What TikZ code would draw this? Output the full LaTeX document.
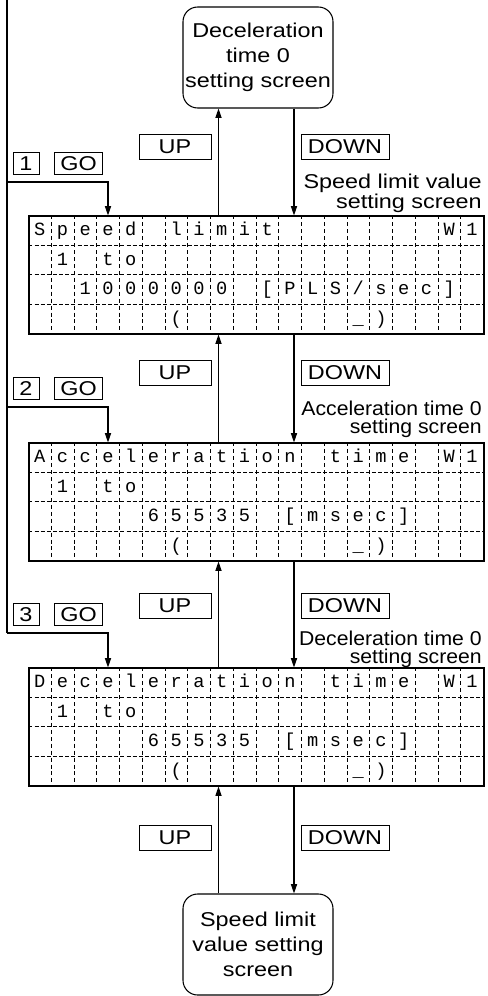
\documentclass[tikz,border=0pt]{standalone}
\usepackage{fontspec}
\setmainfont{Liberation Sans}[FakeStretch=1.17]
\newfontfamily\narrowsans{Liberation Sans}[FakeStretch=1.06]
\newfontfamily\lcdfont{Liberation Mono}
\usetikzlibrary{arrows.meta,calc}
\tikzset{
  sans/.style={font=\fontsize{15pt}{18.75pt}\selectfont},
  conn/.style={line width=0.8pt},
  arr/.style={conn,-{Triangle[length=7pt,width=4.6pt]}},
  keybox/.style={draw,line width=0.6pt,inner sep=0pt,sans,minimum height=18.75pt},
  upbox/.style={keybox,minimum width=54pt},
  downbox/.style={keybox,minimum width=66pt},
  numbox/.style={keybox,minimum width=19.5pt,minimum height=16.5pt},
  gobox/.style={keybox,minimum width=35.5pt,minimum height=16.5pt},
  screenbox/.style={draw,line width=0.8pt,rounded corners=11pt,minimum width=112.5pt,minimum height=75.75pt,inner sep=0pt,align=center,sans},
  lcdbox/.style={draw,line width=0.8pt,minimum width=341.25pt,minimum height=88.5pt,inner sep=0pt},
  vgrid/.style={line width=0.5pt,dash pattern=on 3pt off 2.2pt},
  hgrid/.style={line width=0.5pt,dash pattern=on 3pt off 1.6pt},
  lcdch/.style={anchor=base,inner sep=0pt,font=\lcdfont\fontsize{14pt}{16pt}\selectfont},
  lab/.style={anchor=north east,inner sep=0pt,align=right,font=\fontsize{15pt}{13.1pt}\selectfont},
  nlab/.style={lab,font=\narrowsans\fontsize{15pt}{14pt}\selectfont}
}
\newcommand\lcdgrid[1]{%
  \foreach \k in {1,...,19}{\draw[vgrid] ($(#1.north west)+(\k*22.75,0)$) -- ($(#1.south west)+(\k*22.75,0)$);}
  \foreach \j in {1,2,3}{\draw[hgrid] ($(#1.north west)+(0,\j*29.5)$) -- ($(#1.north east)+(0,\j*29.5)$);}
}
\newcommand\lcdrow[3]{%
  \foreach \ch [count=\k] in {#3}{\node[lcdch] (#1-r#2-\k) at ($(#1.north west)+(\k*22.75-11.375,#2*29.5-9.2)$) {\ch};}
}
\begin{document}
\begin{tikzpicture}[x=0.75pt,y=-0.75pt]
\useasboundingbox (0,0) rectangle (488,996);

% screens
\node[screenbox] (dec0) at (258,57.5) {Deceleration\\time 0\\setting screen};
\node[screenbox] (spd0) at (258,944.5) {Speed limit\\value setting\\screen};

\node[lcdbox] (lcd1) at (256.5,275) {};
\node[lcdbox] (lcd2) at (256.5,502) {};
\node[lcdbox] (lcd3) at (256.5,727) {};

\lcdgrid{lcd1}
\lcdgrid{lcd2}
\lcdgrid{lcd3}

\lcdrow{lcd1}{1}{S,p,e,e,d,{},l,i,m,i,t,{},{},{},{},{},{},{},W,1}
\lcdrow{lcd1}{2}{{},1,{},t,o}
\lcdrow{lcd1}{3}{{},{},1,0,0,0,0,0,0,{},{[},P,L,S,/,s,e,c,{]}}
\lcdrow{lcd1}{4}{{},{},{},{},{},{},{(},{},{},{},{},{},{},{},{\_},{)}}

\lcdrow{lcd2}{1}{A,c,c,e,l,e,r,a,t,i,o,n,{},t,i,m,e,{},W,1}
\lcdrow{lcd2}{2}{{},1,{},t,o}
\lcdrow{lcd2}{3}{{},{},{},{},{},6,5,5,3,5,{},{[},m,s,e,c,{]}}
\lcdrow{lcd2}{4}{{},{},{},{},{},{},{(},{},{},{},{},{},{},{},{\_},{)}}

\lcdrow{lcd3}{1}{D,e,c,e,l,e,r,a,t,i,o,n,{},t,i,m,e,{},W,1}
\lcdrow{lcd3}{2}{{},1,{},t,o}
\lcdrow{lcd3}{3}{{},{},{},{},{},6,5,5,3,5,{},{[},m,s,e,c,{]}}
\lcdrow{lcd3}{4}{{},{},{},{},{},{},{(},{},{},{},{},{},{},{},{\_},{)}}

% key labels
\node[upbox] (up0) at (175,146.5) {UP};
\node[downbox] (dn0) at (345,146.5) {DOWN};
\node[upbox] (up1) at (175,372.5) {UP};
\node[downbox] (dn1) at (345,372.5) {DOWN};
\node[upbox] (up2) at (175,605.5) {UP};
\node[downbox] (dn2) at (345,605.5) {DOWN};
\node[upbox] (up3) at (175,838) {UP};
\node[downbox] (dn3) at (345,838) {DOWN};

\node[numbox] (n1) at (26,163.5) {1};
\node[gobox] (g1) at (78.5,163.5) {GO};
\node[numbox] (n2) at (26,388.5) {2};
\node[gobox] (g2) at (78.5,388.5) {GO};
\node[numbox] (n3) at (26,614.5) {3};
\node[gobox] (g3) at (78.5,614.5) {GO};

% screen name labels
\node[lab] (l1) at (482,173.5) {Speed limit value\\setting screen};
\node[nlab] (l2) at (482,400.5) {Acceleration time 0\\setting screen};
\node[nlab] (l3) at (482,630.5) {Deceleration time 0\\setting screen};

% coordinates
\coordinate (ux) at (218.5,0);
\coordinate (dx) at (294,0);
\coordinate (gx) at (108,0);
\coordinate (ltop) at (7,0);
\coordinate (b1) at (7,182);
\coordinate (b2) at (7,407);
\coordinate (b3) at (7,633);

% connectors
\draw[arr] (lcd1.north -| ux) -- (dec0.south -| ux);
\draw[arr] (dec0.south -| dx) -- (lcd1.north -| dx);
\draw[arr] (lcd2.north -| ux) -- (lcd1.south -| ux);
\draw[arr] (lcd1.south -| dx) -- (lcd2.north -| dx);
\draw[arr] (lcd3.north -| ux) -- (lcd2.south -| ux);
\draw[arr] (lcd2.south -| dx) -- (lcd3.north -| dx);
\draw[arr] (spd0.north -| ux) -- (lcd3.south -| ux);
\draw[arr] (lcd3.south -| dx) -- (spd0.north -| dx);

\draw[conn] (ltop) -- (b3);
\draw[arr] (b1) -| (lcd1.north -| gx);
\draw[arr] (b2) -| (lcd2.north -| gx);
\draw[arr] (b3) -| (lcd3.north -| gx);
\end{tikzpicture}
\end{document}
